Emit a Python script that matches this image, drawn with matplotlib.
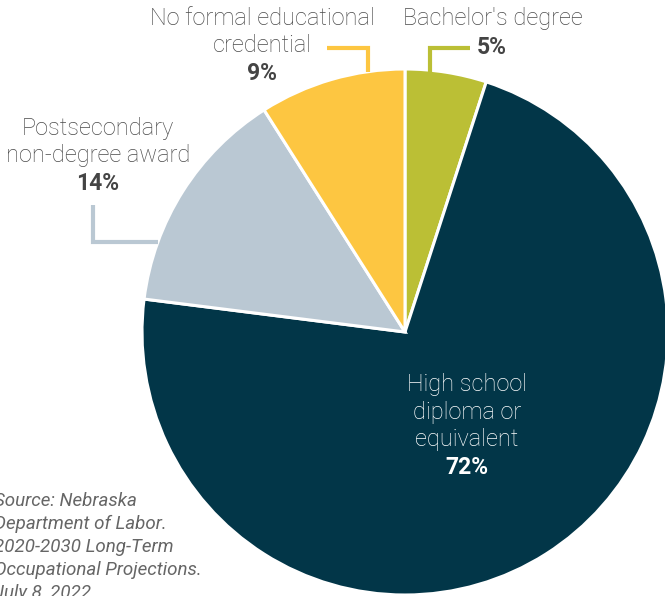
import matplotlib.pyplot as plt

# данные
labels = ["Bachelor's degree", "High school\ndiploma or\nequivalent",
          "Postsecondary\nnon-degree award", "No formal educational\ncredential"]
shares = [5, 72, 14, 9]
colors = ["#BBBF35", "#023648", "#BAC8D3", "#FDC641"]

W, H = 665, 596
fig = plt.figure(figsize=(W / 100, H / 100), dpi=100)

# pie: center (405, 332) px, radius 263 px
cx, cy, r = 405, 332, 263
ax = fig.add_axes([(cx - r) / W, (H - cy - r) / H, 2 * r / W, 2 * r / H])
ax.pie(shares, colors=colors, startangle=90, counterclock=False,
       wedgeprops=dict(edgecolor="white", linewidth=2.2))
ax.set_xlim(-1, 1)
ax.set_ylim(-1, 1)
ax.axis("off")


def d(px, py):
    # пиксели -> координаты данных
    return (px - cx) / r, (cy - py) / r


def line(pts, color):
    xs, ys = zip(*[d(*p) for p in pts])
    ax.plot(xs, ys, color=color, lw=3, clip_on=False, solid_capstyle="butt",
            solid_joinstyle="miter")


line([(430, 72), (430, 48), (470, 48)], colors[0])
line([(368, 72), (368, 48), (327, 48)], colors[3])
line([(93, 205), (93, 242), (158, 242)], colors[2])

lab = dict(fontfamily="Roboto", fontweight="light", fontsize=17,
           color="#4a4a4a", ha="center", va="center", linespacing=1.24)
pct = dict(fontfamily="Roboto", fontweight="bold", fontsize=16.5,
           color="#444444", ha="center", va="center")


def txt(px, py, s, **kw):
    fig.text(px / W, 1 - py / H, s, **kw)


txt(493, 19, labels[0], **lab)
txt(492, 47, f"{shares[0]}%", **pct)

txt(262, 32, labels[3], **lab)
txt(262, 74, f"{shares[3]}%", **pct)

txt(98, 142, labels[2], **lab)
txt(98, 183, f"{shares[2]}%", **pct)

txt(467, 412, labels[1], **{**lab, "color": "white"})
txt(467, 467, f"{shares[1]}%", **{**pct, "color": "white"})

fig.text(-6 / W, 1 - 492 / H,
         "Source: Nebraska\nDepartment of Labor.\n2020-2030 Long-Term\n"
         "Occupational Projections.\nJuly 8, 2022",
         fontfamily="Roboto", fontstyle="italic", fontsize=13.5,
         color="#666666", ha="left", va="top", linespacing=1.35)

fig.savefig("out.png", dpi=100)
